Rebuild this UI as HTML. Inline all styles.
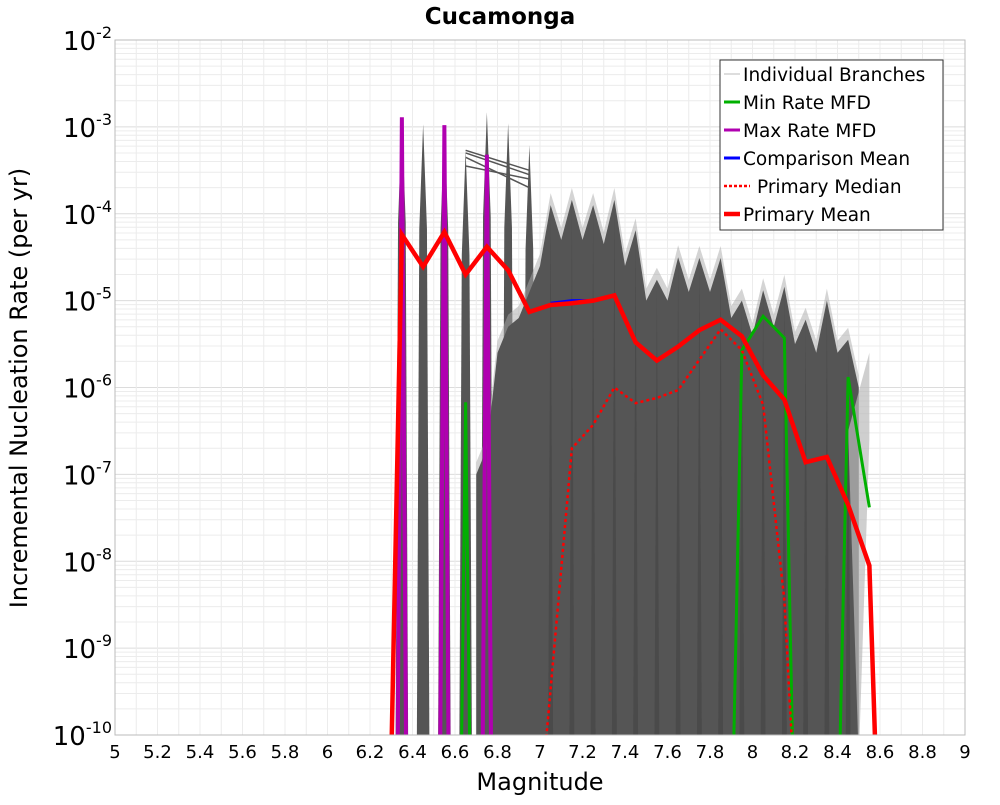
<!DOCTYPE html>
<html><head><meta charset="utf-8"><style>
body{margin:0;background:#fff;font-family:"Liberation Sans","DejaVu Sans",sans-serif}
svg text{font-family:"DejaVu Sans","Liberation Sans",sans-serif}
</style></head><body>
<svg id="chart" width="1000" height="800">
<g id="grid"></g><g id="series" clip-path="url(#pc)"></g><g id="axes"></g>
<defs><clipPath id="pc"><rect x="115" y="40" width="850" height="695"/></clipPath></defs>
</svg>
<script>
const binM=[6.35,6.45,6.55,6.65,6.75,6.85,6.95,7.05,7.15,7.25,7.35,7.45,7.55,7.65,7.75,7.85,7.95,8.05,8.15,8.25,8.35,8.45,8.55];
const branchPeak=[-2.9,-2.97,-2.98,-3.27,-2.83,-2.96,-3.21,-3.9,-3.84,-3.9,-3.84,-4.19,-4.76,-4.5,-4.51,-4.51,-5.0,-4.88,-4.84,-5.22,-5.0,-5.45,-5.6];
const branchValley=[-11,-11,-11,-7,-5.6,-5.2,-4.6,-4.3,-4.3,-4.35,-4.6,-5.0,-5.0,-4.9,-4.9,-5.2,-5.4,-5.3,-5.5,-5.6,-5.6,-6.0];
const meanM=[6.3,6.35,6.45,6.55,6.65,6.75,6.85,6.95,7.05,7.15,7.25,7.35,7.45,7.55,7.65,7.75,7.85,7.95,8.05,8.15,8.25,8.35,8.45,8.55,8.58];
const meanLog=[-10.3,-4.24,-4.61,-4.21,-4.70,-4.38,-4.65,-5.13,-5.05,-5.03,-5.00,-4.94,-5.48,-5.69,-5.53,-5.34,-5.22,-5.41,-5.86,-6.14,-6.86,-6.80,-7.35,-8.05,-10.3];
const medM=[7.02,7.15,7.25,7.35,7.45,7.55,7.65,7.75,7.85,7.95,8.05,8.15,8.19];
const medLog=[-10.3,-6.70,-6.43,-6.0,-6.18,-6.12,-6.03,-5.68,-5.33,-5.57,-6.20,-8.45,-10.3];
const compM=[7.05,7.15,7.25];
const compLog=[-5.03,-5.0,-5.0];
const minM=[6.63,6.65,6.67,7.91,7.95,8.05,8.15,8.19,8.41,8.45,8.55];
const minLog=[-10.3,-6.17,-10.3,-10.3,-5.57,-5.18,-5.43,-10.3,-10.3,-5.88,-7.38];
const maxM=[6.33,6.35,6.37,6.53,6.55,6.57,6.73,6.75,6.77];
const maxLog=[-10.3,-2.89,-10.3,-10.3,-2.98,-10.3,-10.3,-3.32,-10.3];
const xTicks=[5,5.2,5.4,5.6,5.8,6,6.2,6.4,6.6,6.8,7,7.2,7.4,7.6,7.8,8,8.2,8.4,8.6,8.8,9];
const yDecades=[-2,-3,-4,-5,-6,-7,-8,-9,-10];
const legendLabels=["Individual Branches","Min Rate MFD","Max Rate MFD","Comparison Mean","Primary Median","Primary Mean"];

const X0=115,X1=965,Y0=40,Y1=735;
const x=m=>X0+(m-5)/4*(X1-X0);
const y=l=>Y0+(-2-l)/8*(Y1-Y0);
const NS="http://www.w3.org/2000/svg";
function mk(tag,parent,attrs){const e=document.createElementNS(NS,tag);for(const k in attrs)e.setAttribute(k,attrs[k]);parent.appendChild(e);return e;}
const grid=document.getElementById('grid'),ser=document.getElementById('series'),ax=document.getElementById('axes');

for(let d=-10;d<-2;d++){for(let k=1;k<10;k++){const yy=y(d+Math.log10(k));
 const l=mk('line',grid,{x1:X0,x2:X1,y1:yy,y2:yy,stroke:k==1?'#dcdcdc':'#ececec','stroke-width':1});
 }}
for(let m=5;m<=9.001;m+=0.1){const xx=x(m);const l=mk('line',grid,{x1:xx,x2:xx,y1:Y0,y2:Y1,stroke:'#ececec','stroke-width':1});
 }

// wide spikes for the discrete bins
for(let i=0;i<7;i++){const m=binM[i],pk=branchPeak[i],sh=pk-1.2;
 const p=mk('polygon',ser,{points:`${x(m-0.03)},${y(-10.3)} ${x(m-0.018)},${y(sh)} ${x(m)},${y(pk)} ${x(m+0.018)},${y(sh)} ${x(m+0.03)},${y(-10.3)}`,fill:'#555'});
 }
let pts=[`${x(6.7)},${y(-10.3)}`,`${x(6.7)},${y(-7)}`];
for(let i=4;i<binM.length-1;i++){pts.push(`${x(binM[i])},${y(i<7?branchValley[i-1]+0.3:branchPeak[i])}`);pts.push(`${x(binM[i]+0.05)},${y(branchValley[i])}`);}
pts.push(`${x(8.5)},${y(-10.3)}`);
let halo=pts.map(s=>{const [a,b]=s.split(',');return a+','+(+b-12);});
const ph=mk('polygon',ser,{points:halo.join(' '),fill:'#aaa','fill-opacity':0.5});

const pd=mk('polygon',ser,{points:pts.join(' '),fill:'#555'});

for(let i=7;i<binM.length-1;i++){const m=binM[i];
 const s=mk('polygon',ser,{points:`${x(m-0.012)},${y(-10.3)} ${x(m)},${y(branchPeak[i]-0.1)} ${x(m+0.012)},${y(-10.3)}`,fill:'#4a4a4a'});
 }
const pl=mk('polygon',ser,{points:`${x(8.45)},${y(-6.5)} ${x(8.55)},${y(branchPeak[22])} ${x(8.55)},${y(-6.6)} ${x(8.5)},${y(-10.3)}`,fill:'#bbb','fill-opacity':0.7});

const plat=[[-3.27,-3.5],[-3.3,-3.55],[-3.45,-3.6],[-3.35,-3.7]];
plat.forEach(v=>{const l=mk('polyline',ser,{points:`${x(6.65)},${y(v[0])} ${x(6.95)},${y(v[1])}`,stroke:'#555','stroke-width':1.5,fill:'none'});
 });

function line(ms,ls,col,w,name,dash){const p=mk('polyline',ser,{points:ms.map((m,i)=>x(m)+','+y(ls[i])).join(' '),stroke:col,'stroke-width':w,fill:'none','stroke-linejoin':'miter'});
 if(dash)p.setAttribute('stroke-dasharray',dash);}
line(maxM,maxLog,'#b000b0',4,'max-rate-line');
line(minM,minLog,'#00b000',3,'min-rate-line');
line(compM,compLog,'#0000ff',3,'comparison-mean-line');
line(medM,medLog,'#ff0000',2.5,'primary-median-line','3,3');
line(meanM,meanLog,'#ff0000',4.5,'primary-mean-line');

const fr=mk('rect',ax,{x:X0,y:Y0,width:X1-X0,height:Y1-Y0,fill:'none',stroke:'#bbb'});

xTicks.forEach(t=>{const tx=mk('text',ax,{x:x(t),y:758,'font-size':18,'text-anchor':'middle',fill:'#000'});tx.textContent=String(t);
 });
yDecades.forEach(d=>{const tx=mk('text',ax,{x:112,y:y(d)+10,'font-size':26,'text-anchor':'end',fill:'#000'});
 tx.innerHTML='10<tspan dy="-12" font-size="16">'+d+'</tspan>';
 });
const t1=mk('text',ax,{x:500,y:24,'font-size':23,'font-weight':'bold','text-anchor':'middle'});t1.textContent='Cucamonga';

const t2=mk('text',ax,{x:540,y:790,'font-size':24,'text-anchor':'middle'});t2.textContent='Magnitude';

const t3=mk('text',ax,{x:0,y:0,'font-size':24,'text-anchor':'middle',transform:'translate(27,388) rotate(-90)'});t3.textContent='Incremental Nucleation Rate (per yr)';

const lg=mk('g',ax,{});
mk('rect',lg,{x:720,y:60,width:223,height:170,fill:'#fff',stroke:'#333','stroke-width':1});
const lcol=['#bbb','#00b000','#b000b0','#0000ff','#ff0000','#ff0000'],lw=[1,3,3,3,2.5,4.5];
legendLabels.forEach((s,i)=>{const yy=74+i*28;
 const g=mk('g',lg,{});
 const isMed=i==4;
 const l=mk('line',g,{x1:724,x2:isMed?750:740,y1:yy,y2:yy,stroke:lcol[i],'stroke-width':lw[i]});if(isMed)l.setAttribute('stroke-dasharray','3,2');
 const t=mk('text',g,{x:isMed?757:743,y:yy+7,'font-size':18.5});t.textContent=s;});
</script>
</body></html>
